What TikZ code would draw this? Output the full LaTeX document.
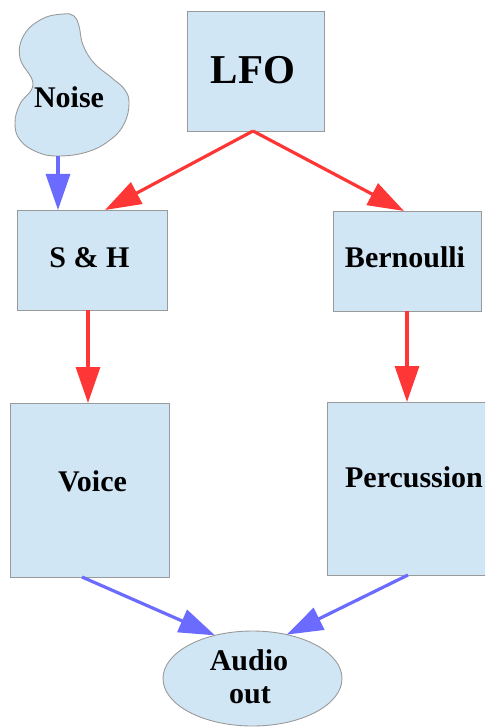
\documentclass[tikz,border=0pt]{standalone}
\usepackage{fontspec}
\setmainfont{Liberation Serif}
\usetikzlibrary{arrows.meta,shapes.geometric}
\definecolor{boxfill}{HTML}{D1E6F5}
\definecolor{boxline}{HTML}{9A9A9A}
\definecolor{ctlred}{HTML}{FF3636}
\definecolor{sigblue}{HTML}{6B6BFF}
\tikzset{
  block/.style={draw=boxline, line width=0.9pt, fill=boxfill, rectangle, inner sep=0pt, outer sep=0pt},
  blob/.style={draw=boxline, line width=0.9pt, fill=boxfill, ellipse, inner sep=0pt, outer sep=0pt},
  lbl/.style={anchor=base, inner sep=0pt, font=\bfseries\fontsize{30}{34}\selectfont},
  biglbl/.style={anchor=base, inner sep=0pt, font=\bfseries\fontsize{41}{45}\selectfont},
  ctl/.style={draw=ctlred, line width=3.2pt, -{Triangle[length=36pt,width=24pt]}},
  sig/.style={draw=sigblue, line width=3.2pt, -{Triangle[length=36pt,width=24pt]}},
}
\begin{document}
\begin{tikzpicture}[x=1pt,y=-1pt]
\useasboundingbox (0,0) rectangle (485,727);
\clip (0,0) rectangle (485,727);

% noise source outline
\draw[boxline, line width=0.9pt, fill=boxfill] plot[smooth cycle, tension=0.7] coordinates {
  (58,156) (37,152) (20,140) (15,123) (20,104) (33,84) (20,58) (24,35)
  (42,19) (63,14) (74,16) (79,26) (83,45) (94,63) (112,78) (125,90)
  (129,104) (124,124) (110,140) (87,152)};
\coordinate (noisebot) at (58,156);
\node[lbl] (noise) at (69,108) {Noise};

% blocks
\node[block, minimum width=137pt, minimum height=120pt] (lfo) at (255.5,71) {};
\node[biglbl] (lfolbl) at (253,84) {LFO};

\node[block, minimum width=150pt, minimum height=100pt] (sh) at (92,260) {};
\node[lbl] (shlbl) at (89.5,267) {S \& H};

\node[block, minimum width=148pt, minimum height=100pt] (bern) at (407,261) {};
\node[lbl] (bernlbl) at (405,267) {Bernoulli};

\node[block, minimum width=159pt, minimum height=174pt] (voice) at (89.5,490) {};
\node[lbl] (voicelbl) at (92.5,491) {Voice};

\node[block, minimum width=160pt, minimum height=173pt] (perc) at (407,488.5) {};
\node[lbl] (perclbl) at (414,487) {Percussion};

\node[blob, minimum width=179pt, minimum height=95pt] (audio) at (252.5,678.5) {};
\node[lbl] (audiolbl) at (249,670) {Audio};
\node[lbl] (outlbl) at (250,703) {out};

% control connections
\draw[ctl] ([xshift=-2.5pt]lfo.south) -- ([xshift=13pt]sh.north);
\draw[ctl] ([xshift=-2.5pt]lfo.south) -- ([xshift=-3pt]bern.north);
\draw[ctl] ([xshift=-4pt]sh.south) -- ([xshift=-1.5pt]voice.north);
\draw[ctl] (bern.south) -- (perc.north);

% signal connections
\draw[sig] (noisebot) -- (noisebot |- sh.north);
\draw[sig] ([xshift=-7.5pt]voice.south) -- (audio.131);
\draw[sig] ([xshift=1pt]perc.south) -- (audio.52);
\end{tikzpicture}
\end{document}
